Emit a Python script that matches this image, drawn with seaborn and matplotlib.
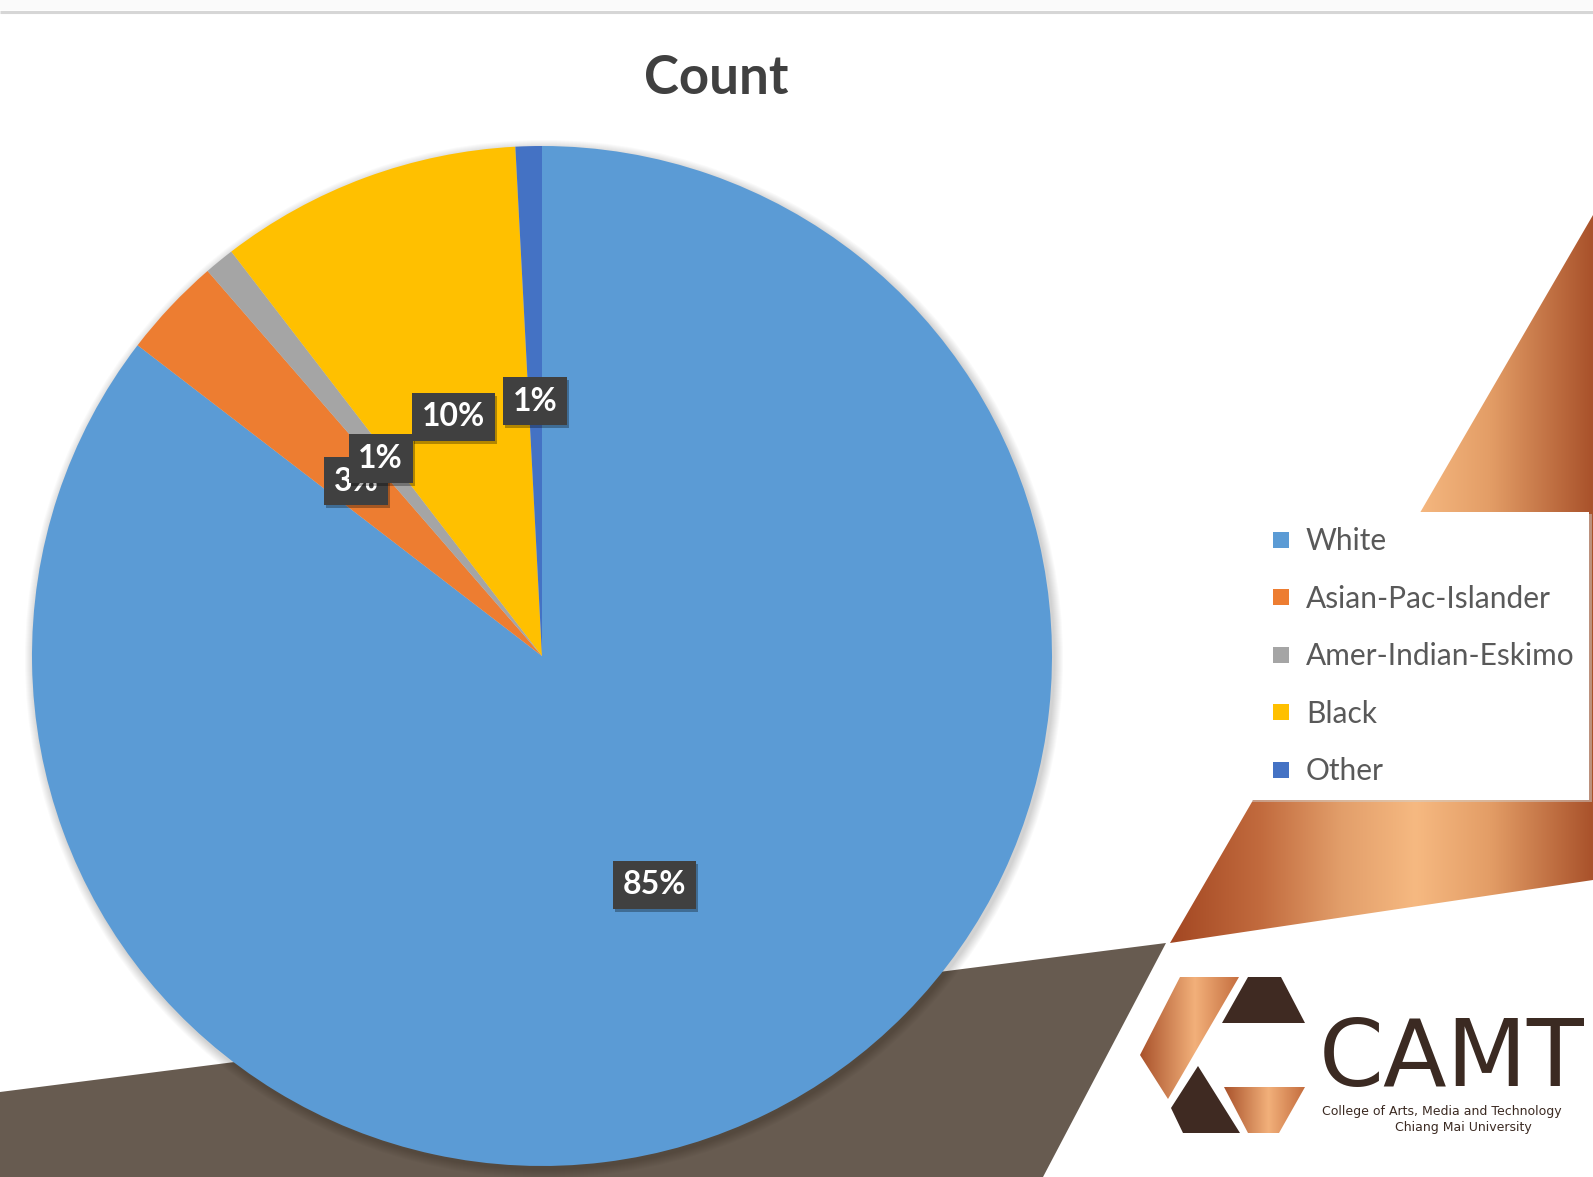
import numpy as np
import matplotlib
matplotlib.use("Agg")
import matplotlib.pyplot as plt
from matplotlib.patches import Polygon, Rectangle, Circle
from matplotlib.lines import Line2D
from matplotlib.colors import LinearSegmentedColormap
from matplotlib.transforms import offset_copy
import seaborn as sns

# ---- data -------------------------------------------------------------
categories = ["White", "Asian-Pac-Islander", "Amer-Indian-Eskimo", "Black", "Other"]
counts = [27816, 1039, 311, 3124, 271]
slice_colors = ["#5B9BD5", "#ED7D31", "#A5A5A5", "#FFC000", "#4472C4"]
title_text = "Count"
logo_name = "CAMT"
logo_line1 = "College of Arts, Media and Technology"
logo_line2 = "Chiang Mai University"

# ---- style ------------------------------------------------------------
sns.set_theme(style="white")
plt.rcParams["font.family"] = ["Lato", "DejaVu Sans"]
palette = sns.color_palette(slice_colors)

W, H = 1593, 1177
fig = plt.figure(figsize=(W / 100, H / 100), dpi=100)
fig.patch.set_facecolor("white")

# background layer in pixel coordinates (y grows downward)
bg = fig.add_axes([0, 0, 1, 1], zorder=0)
bg.axis("off")


def gradient_fill(ax, verts, stops, x0, x1, y0, y1, vertical=False):
    poly = Polygon(verts, closed=True, facecolor="none", edgecolor="none")
    ax.add_patch(poly)
    cmap = LinearSegmentedColormap.from_list("band", stops)
    g = np.linspace(0, 1, 256)
    arr = g[:, None] if vertical else g[None, :]
    im = ax.imshow(arr, cmap=cmap, extent=(x0, x1, y1, y0), origin="upper",
                   aspect="auto", interpolation="bicubic")
    im.set_clip_path(poly)
    return im


# header strip and rule
bg.add_patch(Rectangle((0, 0), W, 10, facecolor="#fafafa", edgecolor="none"))
bg.plot([0, W], [12, 12], color="#d6d6d6", lw=2.2, solid_capstyle="butt")

# dark band behind the pie
bg.add_patch(Polygon([(0, 1092), (1166, 943), (1043, H), (0, H)], closed=True,
                     facecolor="#675b50", edgecolor="none"))

# copper band on the right
copper_stops = [(0.0, "#9c3f1c"), (0.25, "#c26b3e"), (0.43, "#e29e6a"),
                (0.6, "#f6b981"), (0.77, "#e39d66"), (1.0, "#a9522b")]
gradient_fill(bg, [(W, 215), (1170, 943), (W, 880)], copper_stops, 1150, W, 215, 943)

# soft glow around the pie
cx, cy, R = 542, 656, 510
for k in range(1, 10):
    bg.add_patch(Circle((cx + 2, cy + 3), R + k, facecolor="#000000",
                        alpha=0.018, edgecolor="none"))

# legend panel
bg.add_patch(Rectangle((1252, 514), 1592 - 1252, 802 - 514, facecolor="#cfcfcf",
                       edgecolor="none", alpha=0.5))
bg.add_patch(Rectangle((1250, 512), 1589 - 1250, 800 - 512, facecolor="white",
                       edgecolor="none"))

# logo mark
logo_dark = "#3f2a22"
logo_copper = [(0.0, "#a9522b"), (0.55, "#f2b07a"), (1.0, "#c46d3e")]
gradient_fill(bg, [(1180, 977), (1239, 977), (1168, 1099), (1140, 1055)],
              logo_copper, 1140, 1240, 977, 1099)
bg.add_patch(Polygon([(1248, 977), (1281, 977), (1305, 1023), (1222, 1023)],
                     closed=True, facecolor=logo_dark, edgecolor="none"))
bg.add_patch(Polygon([(1198, 1066), (1240, 1133), (1183, 1133), (1171, 1108)],
                     closed=True, facecolor=logo_dark, edgecolor="none"))
gradient_fill(bg, [(1224, 1087), (1305, 1087), (1279, 1133), (1248, 1133)],
              logo_copper, 1224, 1305, 1087, 1133)
bg.text(1319, 1086, logo_name, fontsize=67, color="#3b2a22", ha="left",
        va="baseline", family=["DejaVu Sans"], fontweight="normal")
bg.text(1322, 1111, logo_line1, fontsize=9, color="#3b2a22", ha="left",
        va="center", family=["DejaVu Sans"])
bg.text(1463, 1128, logo_line2, fontsize=9, color="#3b2a22", ha="center",
        va="center", family=["DejaVu Sans"])

bg.set_xlim(0, W)
bg.set_ylim(H, 0)

# ---- pie --------------------------------------------------------------
ax = fig.add_axes([(cx - R) / W, (H - cy - R) / H, 2 * R / W, 2 * R / H], zorder=1)
ax.patch.set_alpha(0)
wedges, texts, autotexts = ax.pie(
    counts, colors=palette, startangle=90, counterclock=False,
    autopct="%1.0f%%", pctdistance=0.5, radius=1.0,
    wedgeprops=dict(linewidth=0),
)
ax.set_xlim(-1, 1)
ax.set_ylim(-1, 1)
ax.set_aspect("equal")
ax.axis("off")

label_size = 23
for i, t in enumerate(autotexts):
    t.set_color("white")
    t.set_fontsize(label_size)
    t.set_fontweight("bold")
    t.set_zorder(10 + 2 * i + 1)
    t.set_bbox(dict(boxstyle="square,pad=0.3", facecolor="#404040", edgecolor="none"))
    x, y = t.get_position()
    ax.text(x, y, t.get_text(), fontsize=label_size, fontweight="bold", color="none",
            ha=t.get_ha(), va=t.get_va(), zorder=10 + 2 * i,
            transform=offset_copy(ax.transData, fig=fig, x=2, y=-3, units="dots"),
            bbox=dict(boxstyle="square,pad=0.3", facecolor="black",
                      edgecolor="none", alpha=0.3))

# ---- title ------------------------------------------------------------
fig.text(716 / W, 1 - 94 / H, title_text, ha="center", va="baseline",
         fontsize=38, fontweight="bold", color="#404040")

# ---- legend -----------------------------------------------------------
handles = [Line2D([], [], marker="s", color=c, linestyle="none",
                  markersize=12, markeredgewidth=0) for c in palette]
fig.legend(handles, categories, loc="upper left",
           bbox_to_anchor=(1270 / W, 1 - 527 / H), frameon=False,
           fontsize=21.5, labelcolor="#595959", handlelength=0.75,
           handletextpad=0.45, labelspacing=0.99, borderpad=0, borderaxespad=0)

fig.savefig("out.png", dpi=100, facecolor="white")
